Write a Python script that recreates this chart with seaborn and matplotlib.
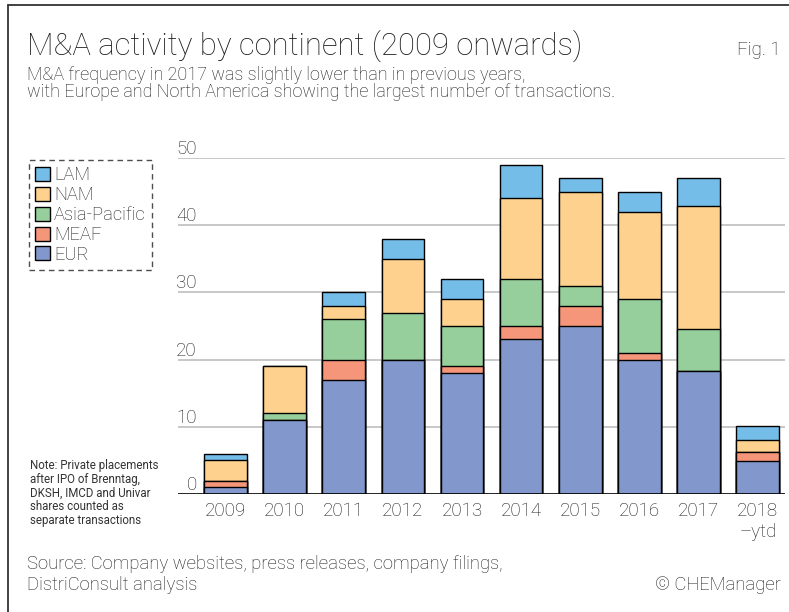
"""
Stacked bar chart: M&A activity by continent (2009 onwards).
"""

import numpy as np
import pandas as pd
import matplotlib
matplotlib.use("Agg")
import matplotlib.pyplot as plt
from matplotlib.patches import Patch
import matplotlib.transforms as mtransforms
import seaborn as sns

# ---------------------------------------------------------------- data
years       = ["2009", "2010", "2011", "2012", "2013", "2014", "2015", "2016", "2017", "2018\n\u2013ytd"]
eur         = [1, 11, 17, 20, 18, 23, 25, 20, 18.3, 4.9]
meaf        = [1, 0, 3, 0, 1, 2, 3, 1, 0, 1.3]
asia_pac    = [0, 1, 6, 7, 6, 7, 3, 8, 6.2, 0]
nam         = [3, 7, 2, 8, 4, 12, 14, 13, 18.4, 1.9]
lam         = [1, 0, 2, 3, 3, 5, 2, 3, 4.1, 2.0]
y_ticks     = [0, 10, 20, 30, 40, 50]

series = [("EUR", eur, "#8297CB"),
          ("MEAF", meaf, "#F5967A"),
          ("Asia-Pacific", asia_pac, "#96CF9B"),
          ("NAM", nam, "#FED28E"),
          ("LAM", lam, "#74BDE9")]

df = pd.DataFrame({name: vals for name, vals, _ in series}, index=years)
cum = df.cumsum(axis=1)

# ---------------------------------------------------------------- style
sns.set_theme(style="white")
plt.rcParams["font.family"] = ["Roboto", "DejaVu Sans"]
TXT = "#1a1a1a"

fig = plt.figure(figsize=(7.89, 6.12), dpi=100)
W, H = 789, 612
ax = fig.add_axes([178 / W, 1 - 494 / H, (785 - 178) / W, (494 - 158) / H])

# draw from the top of the stack downwards so each segment overlays the next
for name, _, color in reversed(series):
    sns.barplot(x=cum.index, y=cum[name].values, color=color, width=0.72,
                edgecolor="black", linewidth=1.0, saturation=1, ax=ax, zorder=3)

ax.set_xlim(-0.8, 9.46)
ax.set_ylim(0, 50)
for v in y_ticks[1:]:
    ax.axhline(v, color="#c4c4c4", lw=1.3, zorder=1)
ax.axhline(0, color="black", lw=1.2, zorder=4)
sns.despine(ax=ax, left=True, bottom=True)
ax.set_yticks([])
ax.set_ylabel("")
ax.set_xlabel("")
ax.tick_params(axis="x", length=0, pad=6, labelsize=13.5, labelcolor=TXT)
for lbl in ax.get_xticklabels():
    lbl.set_fontweight("light")

# y tick labels sit above the gridlines
trans = mtransforms.blended_transform_factory(ax.transAxes, ax.transData)
for v in y_ticks:
    ax.text(0.031, v, str(v), transform=trans, ha="right", va="bottom",
            fontsize=13.5, color=TXT, fontweight="light")

# legend
handles = [Patch(facecolor=c, edgecolor="black", lw=1, label=n) for n, _, c in reversed(series)]
leg = fig.legend(handles=handles, loc="upper left", bbox_to_anchor=(29 / W, 1 - 160 / H),
                 frameon=True, handlelength=0.8, handleheight=0.8,
                 handletextpad=0.2, labelspacing=0.1, borderpad=0.35, borderaxespad=0,
                 fancybox=False, labelcolor=TXT, prop={"weight": "light", "size": 13.2})
leg.get_frame().set_linestyle((0, (4, 3)))
leg.get_frame().set_edgecolor("#222222")
leg.get_frame().set_linewidth(1)

# texts
fig.text(27 / W, 1 - 55 / H, "M&A activity by continent (2009 onwards)",
         fontsize=22.3, color=TXT, va="baseline", fontweight="light")
fig.text(781 / W, 1 - 55 / H, "Fig. 1", fontsize=13.5, color=TXT, ha="right",
         va="baseline", fontweight="light")
fig.text(27 / W, 1 - 80 / H, "M&A frequency in 2017 was slightly lower than in previous years,",
         fontsize=13.0, color=TXT, va="baseline", fontweight="light")
fig.text(27 / W, 1 - 97 / H, "with Europe and North America showing the largest number of transactions.",
         fontsize=13.0, color=TXT, va="baseline", fontweight="light")
fig.text(30 / W, 1 - 459 / H,
         "Note: Private placements\nafter IPO of Brenntag,\nDKSH, IMCD and Univar\nshares counted as\nseparate transactions",
         fontsize=8.3, color="#333333", va="top", linespacing=1.08)
fig.text(27 / W, 1 - 569 / H, "Source: Company websites, press releases, company filings,",
         fontsize=13.35, color=TXT, va="baseline", fontweight="light")
fig.text(27 / W, 1 - 590 / H, "DistriConsult analysis", fontsize=13.35, color=TXT,
         va="baseline", fontweight="light")
fig.text(781 / W, 1 - 590 / H, "\u00a9 CHEManager", fontsize=13.35, color=TXT, ha="right",
         va="baseline", fontweight="light")

# frame lines (top and left)
fig.add_artist(plt.Line2D([8 / W, 1], [1 - 5 / H, 1 - 5 / H], color="#333333", lw=1.3))
fig.add_artist(plt.Line2D([8 / W, 8 / W], [0, 1 - 5 / H], color="#333333", lw=1.3))

fig.savefig("out.png", dpi=100)
